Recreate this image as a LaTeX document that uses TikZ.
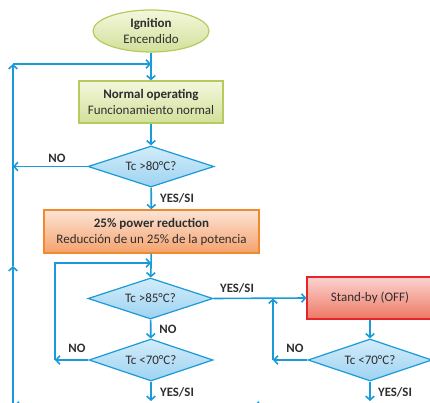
\documentclass[tikz,border=0pt]{standalone}
\usepackage{fontspec}
\setmainfont{Carlito}
\usetikzlibrary{shapes.geometric,arrows.meta}
\definecolor{lineblue}{HTML}{1A9AD8}
\definecolor{txt}{HTML}{2E2E2E}
\definecolor{greenT}{HTML}{F4F7DD}
\definecolor{greenB}{HTML}{D2E09A}
\definecolor{greenD}{HTML}{B5CB5E}
\definecolor{orT}{HTML}{FCE4D6}
\definecolor{orB}{HTML}{F5A26C}
\definecolor{orD}{HTML}{F08A2C}
\definecolor{rdT}{HTML}{FBD3CF}
\definecolor{rdB}{HTML}{EE7864}
\definecolor{rdD}{HTML}{E5242B}
\definecolor{blT}{HTML}{D2ECFA}
\definecolor{blB}{HTML}{9ED3F1}
\tikzset{
  flow/.style={draw=lineblue, line width=1.6pt, -{Straight Barb[length=3.8pt,width=8.5pt]}},
  lab/.style={font=\fontsize{12.8}{14}\selectfont\bfseries, text=txt, inner sep=0pt},
  boxtxt/.style={font=\fontsize{13}{16}\selectfont, text=txt, align=center},
  greenbox/.style={boxtxt, draw=greenD, line width=1.2pt, top color=greenT, bottom color=greenB},
  orbox/.style={boxtxt, draw=orD, line width=1.4pt, top color=orT, bottom color=orB},
  rdbox/.style={boxtxt, draw=rdD, line width=1.2pt, top color=rdT, bottom color=rdB},
  dia/.style={diamond, boxtxt, draw=lineblue, line width=1.2pt, top color=blT, bottom color=blB,
    inner sep=0pt, shape aspect=3},
}
\begin{document}
\begin{tikzpicture}[x=1pt,y=-1pt]
\useasboundingbox (0,0) rectangle (430,403);
\clip (0,0) rectangle (430,403);
% nodes
\node[ellipse, greenbox, minimum width=116pt, minimum height=42pt, inner sep=0pt] (ign) at (151,31)
  {\textbf{Ignition}\\Encendido};
\node[rectangle, greenbox, minimum width=144pt, minimum height=42pt, inner sep=0pt] (norm) at (151,102)
  {\textbf{Normal operating}\\Funcionamiento normal};
\node[dia, minimum width=126pt, minimum height=41pt] (d1) at (151,166.5) {Tc >80°C?};
\node[rectangle, orbox, minimum width=215pt, minimum height=43pt, inner sep=0pt] (red) at (151.5,231.5)
  {\textbf{25\% power reduction}\\Reducción de un 25\% de la potencia};
\node[dia, minimum width=125pt, minimum height=41pt] (d2) at (150.5,298.5) {Tc >85°C?};
\node[dia, minimum width=124pt, minimum height=42pt] (d3) at (151,360) {Tc <70°C?};
\node[rectangle, rdbox, minimum width=126pt, minimum height=42pt, inner sep=0pt] (sb) at (370,298)
  {Stand-by (OFF)};
\node[dia, minimum width=124pt, minimum height=42pt] (d4) at (370,360) {Tc <70°C?};
% coordinates
\coordinate (lb) at (13,420);
\coordinate (lm) at (13,266);
\coordinate (lt) at (13,64);
\coordinate (j1) at (151,64);
\coordinate (n1) at (13,166.5);
\coordinate (l2b) at (55,360);
\coordinate (l2t) at (55,263);
\coordinate (j2) at (151,263);
\coordinate (r2b) at (273,360);
\coordinate (r2t) at (273,298.5);
\coordinate (e3) at (151,401);
\coordinate (e4) at (370,401);
\coordinate (ba1) at (70,406);
\coordinate (bt1) at (14,406);
\coordinate (ba2) at (310,406);
\coordinate (bt2) at (254,406);
% connectors
\draw[flow] (ign) -- (norm);
\draw[flow] (lb) -- (lm);
\draw[flow] (lm) -- (lt);
\draw[flow] (lt) -- (j1);
\draw[flow] (norm) -- (d1);
\draw[flow] (d1.west) -- (n1);
\draw[flow] (d1) -- (red);
\draw[flow] (red) -- (d2);
\draw[flow] (l2b) -- (l2t) -- (j2);
\draw[flow] (d2.east) -- (sb.west);
\draw[flow] (d2) -- (d3);
\draw[flow] (d3.west) -- (l2b);
\draw[flow] (d3.south) -- (e3);
\draw[flow] (sb) -- (d4);
\draw[flow] (d4.west) -- (r2b);
\draw[flow] (r2b) -- (r2t);
\draw[flow] (d4.south) -- (e4);
\draw[flow] (ba1) -- (bt1);
\draw[flow] (ba2) -- (bt2);
% labels
\node[lab] (lno1) at (57,158) {NO};
\node[lab] (lys1) at (177,198) {YES/SI};
\node[lab] (lys2) at (237,288) {YES/SI};
\node[lab] (lno2) at (168,329) {NO};
\node[lab] (lno3) at (77,348) {NO};
\node[lab] (lys3) at (177,392) {YES/SI};
\node[lab] (lno4) at (295,348) {NO};
\node[lab] (lys4) at (395,392) {YES/SI};
\end{tikzpicture}
\end{document}
